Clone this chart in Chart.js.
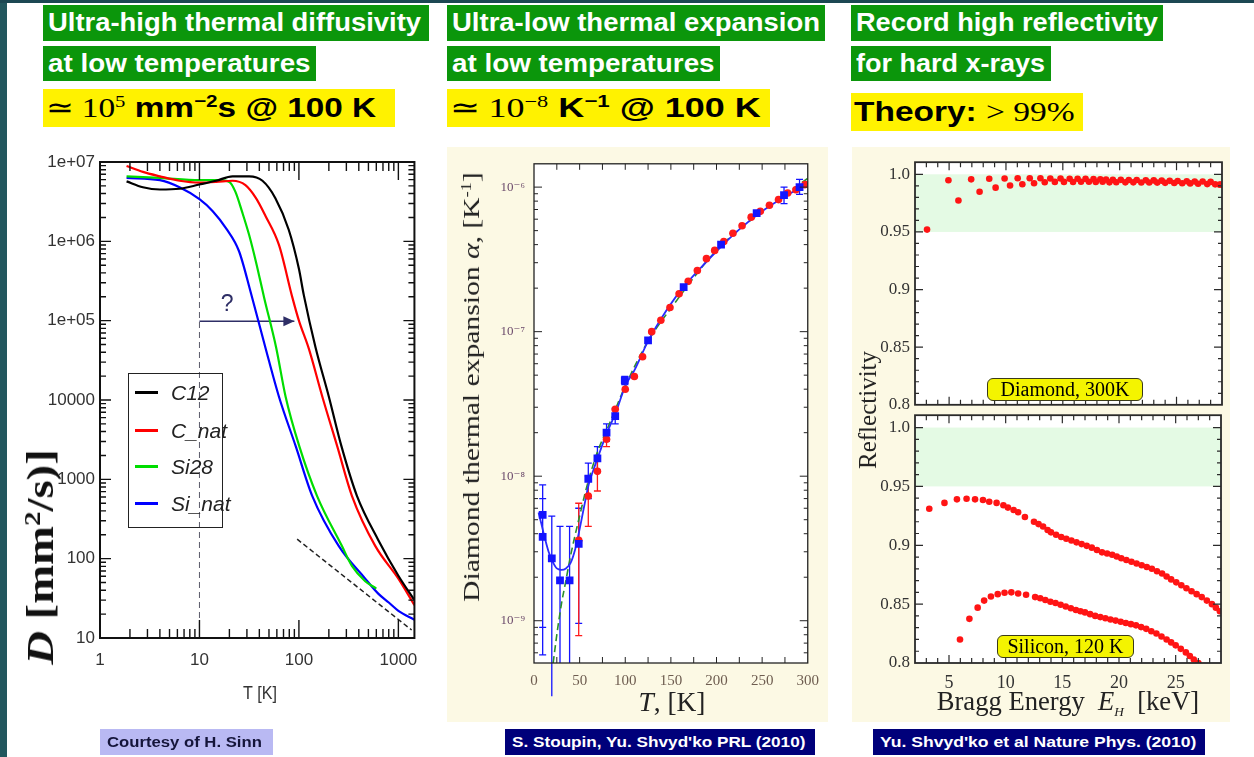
<!DOCTYPE html>
<html>
<head>
<meta charset="utf-8">
<title>Diamond: thermal diffusivity, thermal expansion, x-ray reflectivity</title>
<script src="https://cdn.jsdelivr.net/npm/chart.js@4.4.1/dist/chart.umd.min.js"></script>
<style>
  body { margin: 0; width: 1254px; height: 757px; position: relative; overflow: hidden; background: #fff;
         font-family: 'Liberation Sans', Arial, sans-serif; }
  .strip { position: absolute; background: #22575e; }
  .box { position: absolute; box-sizing: border-box; white-space: nowrap; overflow: hidden; }
  .box > span { display: inline-block; transform-origin: 0 50%; }
  .green { background: #0b960b; color: #fff; font-weight: bold; font-size: 26px; line-height: 34px; padding-left: 5px; }
  .yellow { background: #fff200; color: #000; font-weight: bold; font-size: 28px; line-height: 38px; padding-left: 3px; }
  .m { font-family: 'Liberation Serif', serif; font-weight: normal; }
  sup { font-size: 0.62em; vertical-align: 0.55em; line-height: 0; }
  .cite { font-weight: bold; font-size: 14px; line-height: 26px; height: 26px; padding-left: 7px; }
  .navy { background: #00007a; color: #fff; }
  .lav { background: #b9b9f3; color: #15153a; }
  .panel { position: absolute; background: #fcf9e4; }
  canvas { position: absolute; }
  .rot { position: absolute; white-space: nowrap; transform: translate(-50%, -50%) rotate(-90deg); }
  .ctr { position: absolute; white-space: nowrap; transform: translate(-50%, -50%); }
  .rot > span, .ctr > span { display: inline-block; transform-origin: 50% 50%; }
  .serif { font-family: 'Liberation Serif', serif; }
  .tag { position: absolute; box-sizing: border-box; background: #f4f400; border: 1.5px solid #3a3a1a; border-radius: 6px;
         font-family: 'Liberation Serif', serif; font-size: 20px; line-height: 20px; text-align: center; white-space: nowrap; }
  .legend { position: absolute; box-sizing: border-box; border: 1.5px solid #222; }
  .legend .row { position: absolute; left: 0; width: 100%; height: 24px; }
  .legend .sw { position: absolute; left: 6px; top: 10px; width: 23px; height: 3px; }
  .legend .lb { position: absolute; left: 42px; top: 0; font-style: italic; font-size: 21px; line-height: 24px; color: #222;
                font-family: 'Liberation Sans Narrow', 'Liberation Sans', sans-serif; transform-origin: 0 50%; }
</style>
</head>
<body>

<div class="strip" style="left:0;top:0;width:7px;height:757px"></div>
<div class="strip" style="left:0;top:0;width:1254px;height:3px;background:#1c4853"></div>

<!-- headers -->
<div class="box green" style="left:43px;top:5px;width:386px;height:36px"><span data-w="373">Ultra-high thermal diffusivity</span></div>
<div class="box green" style="left:43px;top:46px;width:273px;height:35px"><span data-w="263">at low temperatures</span></div>
<div class="box yellow" style="left:43px;top:89px;width:352px;height:38px"><span data-w="330"><span class="m">&#8771; 10<sup>5</sup></span> mm<sup>&minus;2</sup>s @ 100 K</span></div>

<div class="box green" style="left:447px;top:5px;width:378px;height:36px"><span data-w="368">Ultra-low thermal expansion</span></div>
<div class="box green" style="left:447px;top:46px;width:273px;height:35px"><span data-w="263">at low temperatures</span></div>
<div class="box yellow" style="left:447px;top:89px;width:323px;height:38px"><span data-w="311"><span class="m">&#8771; 10<sup>&minus;8</sup></span> K<sup>&minus;1</sup> @ 100 K</span></div>

<div class="box green" style="left:851px;top:5px;width:312px;height:36px"><span data-w="302">Record high reflectivity</span></div>
<div class="box green" style="left:851px;top:46px;width:200px;height:35px"><span data-w="189">for hard x-rays</span></div>
<div class="box yellow" style="left:851px;top:93px;width:232px;height:38px"><span data-w="221">Theory: <span class="m">&gt; 99%</span></span></div>

<!-- panels -->
<div class="panel" style="left:447px;top:147px;width:381px;height:575px"></div>
<div class="panel" style="left:852px;top:147px;width:378px;height:575px"></div>

<canvas id="cL" width="420" height="580" style="left:10px;top:140px"></canvas>
<canvas id="cM" width="381" height="575" style="left:447px;top:147px"></canvas>
<canvas id="cRT" width="378" height="273" style="left:852px;top:147px"></canvas>
<canvas id="cRB" width="378" height="322" style="left:852px;top:400px"></canvas>

<!-- left panel overlays -->
<div class="legend" style="left:128px;top:373px;width:95px;height:155px">
  <div class="row" style="top:7px"><div class="sw" style="background:#000"></div><div class="lb">C12</div></div>
  <div class="row" style="top:45px"><div class="sw" style="background:#f00"></div><div class="lb">C_nat</div></div>
  <div class="row" style="top:81px"><div class="sw" style="background:#0d0"></div><div class="lb">Si28</div></div>
  <div class="row" style="top:118px"><div class="sw" style="background:#00f"></div><div class="lb">Si_nat</div></div>
</div>
<div class="rot serif" style="left:40px;top:557px;font-size:38px;font-weight:bold;color:#111"><span data-w="215"><i>D</i> [mm<sup>2</sup>/s)]</span></div>
<div class="ctr" style="left:260px;top:693px;font-size:19px;color:#333;font-family:'Liberation Sans Narrow','Liberation Sans',sans-serif"><span data-w="34">T [K]</span></div>

<!-- middle panel titles -->
<div class="rot serif" style="left:472px;top:387px;font-size:23px;color:#222"><span data-w="430">Diamond thermal expansion <i>&alpha;</i>, [K<sup>-1</sup>]</span></div>
<div class="ctr serif" style="left:672px;top:702px;font-size:27px;color:#222"><span data-w="67"><i>T</i>, [K]</span></div>

<!-- right panel titles and tags -->
<div class="rot serif" style="left:868px;top:410px;font-size:25px;color:#222"><span data-w="118">Reflectivity</span></div>
<div class="ctr serif" style="left:1068px;top:703px;font-size:27px;color:#222"><span data-w="262">Bragg Energy&nbsp; <i>E<sub style="font-size:0.5em">H</sub></i>&nbsp; [keV]</span></div>
<div class="tag" style="left:987px;top:378px;width:156px;height:23px">Diamond, 300K</div>
<div class="tag" style="left:997px;top:635px;width:137px;height:23px">Silicon, 120 K</div>

<!-- citations -->
<div class="box cite lav" style="left:100px;top:729px;width:173px"><span data-w="155">Courtesy of H. Sinn</span></div>
<div class="box cite navy" style="left:505px;top:729px;width:310px"><span data-w="293">S. Stoupin, Yu. Shvyd'ko PRL (2010)</span></div>
<div class="box cite navy" style="left:873px;top:729px;width:332px"><span data-w="316">Yu. Shvyd'ko et al Nature Phys. (2010)</span></div>

<script>
// ---------- left: thermal diffusivity D(T), mm^2/s ----------
const T_C12 = [1.85, 2.7, 4, 6.3, 10, 14.7, 21.5, 31.6, 43, 58, 79, 100, 112, 147, 200, 268, 383, 631, 1000, 1450];
const D_C12 = [5.7e6, 4.8e6, 4.5e6, 4.6e6, 5.2e6, 5.8e6, 6.6e6, 6.6e6, 5.8e6, 3.5e6, 1.4e6, 4.5e5, 2.1e5, 4.6e4, 1.1e4, 2.6e3, 620, 170, 61, 30];
const T_CNAT = [1.85, 2.7, 4, 6.3, 10, 14.7, 21.5, 29, 37, 46, 63, 86, 100, 126, 172, 243, 341, 585, 1000, 1450];
const D_CNAT = [8.9e6, 7.5e6, 6.6e6, 5.8e6, 5.5e6, 5.6e6, 5.8e6, 5.1e6, 3.5e6, 2.1e6, 9e5, 1.95e5, 1.0e5, 4.4e4, 1.1e4, 2.6e3, 620, 145, 56, 26];
const T_SI28 = [1.85, 4, 10, 15.8, 20, 23, 27, 31.6, 37, 44.7, 59, 73.5, 101, 152, 270, 341, 464, 600];
const D_SI28 = [6.6e6, 6.3e6, 5.9e6, 5.9e6, 5.6e6, 4.2e6, 2.3e6, 1.2e6, 5.5e5, 1.95e5, 4.6e4, 1.1e4, 2.6e3, 620, 145, 81, 52, 42];
const T_SINAT = [1.85, 4, 6.3, 10, 13.6, 18.6, 25, 33, 46, 63, 93, 136, 251, 464, 631, 800, 1000, 1450];
const D_SINAT = [6.3e6, 5.9e6, 4.8e6, 3.4e6, 2.4e6, 1.45e6, 7.5e5, 2.2e5, 4.6e4, 1.1e4, 2.6e3, 620, 145, 56, 36, 28, 22, 17];
const SLOPE_T = [96, 1360];
const SLOPE_D = [176, 12.6];
const GUIDE_T = 10;
const ARROW_T = [10, 90];
const ARROW_D = 9.8e4;
const QMARK = { x: 19, y: 1.6e5 };
const T_TICKS = [1, 10, 100, 1000];
const T_TICK_LABELS = ['1', '10', '100', '1000'];
const D_TICKS = [10, 100, 1000, 10000, 1e5, 1e6, 1e7];
const D_TICK_LABELS = ['10', '100', '1000', '10000', '1e+05', '1e+06', '1e+07'];

// ---------- middle: thermal expansion alpha(T), 1/K ----------
const BLUE_T = [9.5, 9.5, 19.5, 28.5, 39, 49, 59.5, 69.5, 79.5, 89, 99.5, 125, 164, 205, 244, 274, 291];
const BLUE_A = [5.4e-9, 3.8e-9, 2.7e-9, 1.9e-9, 1.9e-9, 3.4e-9, 9.6e-9, 1.33e-8, 2.0e-8, 2.6e-8, 4.6e-8, 8.7e-8, 2.03e-7, 4.0e-7, 6.6e-7, 8.8e-7, 1.0e-6];
const BLUE_LO = [5.8e-10, 9e-10, 3e-10, 5.1e-10, 5.1e-10, 9.6e-10, 7.0e-9, 1.1e-8, 1.75e-8, 2.3e-8, 4.3e-8, null, null, null, null, 7.7e-7, 8.9e-7];
const BLUE_HI = [8.7e-9, 7e-9, 5.3e-9, 4.5e-9, 4.5e-9, 6.0e-9, 1.23e-8, 1.6e-8, 2.3e-8, 2.95e-8, 4.9e-8, null, null, null, null, 1.0e-6, 1.13e-6];
const RED_T = [49, 59.5, 69.5, 79.5, 89, 100, 110, 119, 129, 139, 149, 159, 169, 179, 189, 198, 208, 218, 228, 238, 248, 258, 268, 278, 287, 297];
const RED_A = [3.6e-9, 7.3e-9, 1.08e-8, 1.8e-8, 2.9e-8, 4.0e-8, 4.9e-8, 6.7e-8, 1.0e-7, 1.2e-7, 1.47e-7, 1.83e-7, 2.23e-7, 2.65e-7, 3.2e-7, 3.65e-7, 4.2e-7, 4.8e-7, 5.4e-7, 6.2e-7, 6.8e-7, 7.5e-7, 8.2e-7, 9.1e-7, 9.6e-7, 1.04e-6];
const RED_LO = [7.9e-10, 4.5e-9, 7.9e-9, 1.6e-8];
const RED_HI = [6.5e-9, 1.0e-8, 1.3e-8, 2.05e-8];
const FIT_T = [5, 8, 12, 16, 20, 25, 30, 35, 40, 45, 50, 55, 60, 65, 70, 80, 90, 100, 110, 125, 140, 160, 180, 200, 225, 250, 275, 300];
const FIT_A = [5.6e-9, 4.7e-9, 3.7e-9, 3.0e-9, 2.6e-9, 2.3e-9, 2.25e-9, 2.3e-9, 2.5e-9, 3.1e-9, 4.3e-9, 6.2e-9, 8.8e-9, 1.1e-8, 1.35e-8, 2.0e-8, 2.8e-8, 4.2e-8, 5.4e-8, 8.6e-8, 1.25e-7, 1.9e-7, 2.65e-7, 3.6e-7, 5.1e-7, 6.8e-7, 8.6e-7, 1.06e-6];
const DEBYE_T = [21, 25, 30, 35, 40, 45, 50, 55, 60, 70, 80, 100, 125, 150, 200, 250, 300];
const DEBYE_A = [5.1e-10, 8e-10, 1.3e-9, 1.9e-9, 2.8e-9, 3.9e-9, 5.3e-9, 7.2e-9, 9.5e-9, 1.5e-8, 2.1e-8, 4.2e-8, 8.6e-8, 1.45e-7, 3.65e-7, 6.8e-7, 1.15e-6];
const A_TICKS = [1e-9, 1e-8, 1e-7, 1e-6];
const A_TICK_LABELS = ['10\u207B\u2079', '10\u207B\u2078', '10\u207B\u2077', '10\u207B\u2076'];
const TK_TICKS = [0, 50, 100, 150, 200, 250, 300];

// ---------- right: Bragg reflectivity ----------
const DIA_E = [3.06, 4.94, 5.82, 6.94, 7.68, 8.53, 9.09, 9.88, 10.36, 11.03, 11.44, 12.09, 12.47, 13.03, 13.41, 13.9, 14.3, 14.8, 15.1, 15.6, 15.9, 16.3, 16.6, 17.0, 17.3, 17.7, 17.9, 18.3, 18.5, 18.8, 19.1, 19.4, 19.7, 20.1, 20.5, 20.8, 21.2, 21.5, 21.9, 22.3, 22.6, 23.0, 23.3, 23.7, 24.0, 24.4, 24.8, 25.1, 25.5, 25.9, 26.2, 26.6, 26.9, 27.3, 27.7, 28.0, 28.4, 28.8, 28.9];
const DIA_R = [0.952, 0.9948, 0.9773, 0.9956, 0.9848, 0.9961, 0.9884, 0.9964, 0.9903, 0.9966, 0.9914, 0.9966, 0.9923, 0.9966, 0.9931, 0.9964, 0.9934, 0.9963, 0.9934, 0.9962, 0.9933, 0.9961, 0.9935, 0.996, 0.9935, 0.9958, 0.9934, 0.9957, 0.9935, 0.9955, 0.993, 0.9953, 0.9931, 0.9952, 0.993, 0.995, 0.993, 0.995, 0.9929, 0.9948, 0.9929, 0.9947, 0.9928, 0.9945, 0.9926, 0.9943, 0.9925, 0.9942, 0.9923, 0.994, 0.9921, 0.9938, 0.9918, 0.9937, 0.9915, 0.9934, 0.9913, 0.991, 0.991];
const SI_HI_E = [3.26, 4.6, 5.7, 6.55, 7.3, 8.0, 8.55, 9.2, 9.8, 10.2, 10.7, 11.1, 11.7, 12.5, 12.9, 13.3, 13.7, 14.0, 14.45, 14.9, 15.35, 15.8, 16.25, 16.7, 17.15, 17.6, 18.05, 18.5, 18.95, 19.4, 19.8, 20.2, 20.65, 21.1, 21.55, 22.0, 22.45, 22.9, 23.35, 23.8, 24.2, 24.6, 25.05, 25.5, 25.95, 26.4, 26.85, 27.3, 27.75, 28.2, 28.55, 28.9];
const SI_HI_R = [0.931, 0.936, 0.939, 0.9395, 0.939, 0.9385, 0.937, 0.936, 0.934, 0.932, 0.930, 0.928, 0.924, 0.920, 0.918, 0.916, 0.913, 0.911, 0.909, 0.907, 0.9055, 0.904, 0.9025, 0.901, 0.8995, 0.898, 0.896, 0.894, 0.893, 0.892, 0.8905, 0.889, 0.8875, 0.886, 0.8845, 0.883, 0.8815, 0.880, 0.878, 0.876, 0.8735, 0.871, 0.8685, 0.866, 0.8635, 0.861, 0.8585, 0.856, 0.853, 0.850, 0.847, 0.844];
const SI_LO_E = [5.97, 6.8, 7.53, 8.1, 8.7, 9.3, 9.9, 10.5, 11.1, 11.8, 12.6, 13.05, 13.5, 13.95, 14.4, 14.85, 15.3, 15.75, 16.2, 16.6, 17.0, 17.45, 17.9, 18.35, 18.8, 19.25, 19.7, 20.15, 20.6, 21.05, 21.5, 21.95, 22.4, 22.85, 23.3, 23.75, 24.2, 24.6, 25.0, 25.45, 25.9, 26.25, 26.6, 27.0];
const SI_LO_R = [0.820, 0.8375, 0.847, 0.853, 0.8565, 0.8585, 0.8597, 0.860, 0.859, 0.858, 0.856, 0.855, 0.8535, 0.852, 0.851, 0.8495, 0.848, 0.8465, 0.845, 0.844, 0.843, 0.8415, 0.840, 0.839, 0.838, 0.837, 0.836, 0.835, 0.834, 0.833, 0.832, 0.8305, 0.829, 0.827, 0.825, 0.8225, 0.820, 0.8175, 0.815, 0.812, 0.809, 0.806, 0.803, 0.800];
const R_TICKS = [0.8, 0.85, 0.9, 0.95, 1.0];
const R_TICK_LABELS = ['0.8', '0.85', '0.9', '0.95', '1.0'];
const E_TICKS = [5, 10, 15, 20, 25];
const E_TICK_LABELS = ['5', '10', '15', '20', '25'];
const BAND_LO = 0.95, BAND_HI = 1.0;

// ---------- helpers ----------
const pts = (xs, ys) => xs.map((x, i) => ({ x, y: ys[i] }));
const near = (a, b) => Math.abs(a - b) <= 1e-6 * Math.max(Math.abs(a), Math.abs(b));

function logSteps(lo, hi) {
    const out = [];
    for (let e = Math.floor(Math.log10(lo)); e <= Math.ceil(Math.log10(hi)); e++) {
        for (let m = 1; m < 10; m++) {
            const v = m * Math.pow(10, e);
            if (v >= lo * 0.999 && v <= hi * 1.001) out.push(v);
        }
    }
    return out;
}

function linSteps(lo, hi, step) {
    const out = [];
    for (let v = lo; v <= hi + 1e-9; v += step) out.push(+v.toFixed(6));
    return out;
}

// one axis: fixed size, explicit tick list, labels only on the major values
function axis(o) {
    return {
        type: o.type, min: o.min, max: o.max,
        grid: { display: false, drawTicks: false },
        border: { display: false },
        afterBuildTicks: s => { s.ticks = o.steps.map(v => ({ value: v, mj: o.major.some(m => near(m, v)) })); },
        afterFit: s => { if (o.horiz) s.height = o.size; else s.width = o.size; },
        ticks: {
            display: !!o.labels, autoSkip: false, maxRotation: 0, minRotation: 0,
            padding: o.pad, color: o.color, font: o.font,
            callback: v => {
                const i = o.major.findIndex(m => near(m, v));
                return (i >= 0 && o.labels) ? o.labels[i] : '';
            }
        }
    };
}

// plot background, shaded band, inward ticks on all four sides, frame
const framePlugin = {
    id: 'frame',
    beforeDatasetsDraw(chart, args, o) {
        const a = chart.chartArea, c = chart.ctx;
        c.save();
        if (o.fill) { c.fillStyle = o.fill; c.fillRect(a.left, a.top, a.width, a.height); }
        if (o.bandColor) {
            const y = chart.scales.y;
            const top = y.getPixelForValue(o.bandHi), bot = y.getPixelForValue(o.bandLo);
            c.fillStyle = o.bandColor;
            c.fillRect(a.left, top, a.width, bot - top);
        }
        c.restore();
    },
    afterDatasetsDraw(chart, args, o) {
        const a = chart.chartArea, c = chart.ctx;
        const xs = chart.scales.x, ys = chart.scales.y;
        c.save();
        c.strokeStyle = o.color;
        c.lineWidth = o.tickWidth;
        c.beginPath();
        xs.ticks.forEach(t => {
            const p = xs.getPixelForValue(t.value);
            if (p < a.left + 1 || p > a.right - 1) return;
            const L = t.mj ? o.xMajor : o.xMinor;
            c.moveTo(p, a.bottom); c.lineTo(p, a.bottom - L);
            c.moveTo(p, a.top); c.lineTo(p, a.top + L);
        });
        ys.ticks.forEach(t => {
            const p = ys.getPixelForValue(t.value);
            if (p < a.top + 1 || p > a.bottom - 1) return;
            const L = t.mj ? o.yMajor : o.yMinor;
            c.moveTo(a.left, p); c.lineTo(a.left + L, p);
            c.moveTo(a.right, p); c.lineTo(a.right - L, p);
        });
        c.stroke();
        c.lineWidth = o.frameWidth;
        c.strokeStyle = o.frameColor;
        c.strokeRect(a.left, a.top, a.width, a.height);
        c.restore();
    }
};

// vertical error bars from errLo / errHi arrays on a dataset
const errorBars = {
    id: 'errorBars',
    beforeDatasetsDraw(chart) {
        const c = chart.ctx, y = chart.scales.y;
        chart.data.datasets.forEach((ds, i) => {
            if (!ds.errLo) return;
            const meta = chart.getDatasetMeta(i);
            c.save();
            c.strokeStyle = ds.backgroundColor;
            c.lineWidth = 1.3;
            c.beginPath();
            meta.data.forEach((pt, j) => {
                if (ds.errLo[j] == null) return;
                const yh = y.getPixelForValue(ds.errHi[j]);
                const yl = y.getPixelForValue(ds.errLo[j]);
                c.moveTo(pt.x, yh); c.lineTo(pt.x, yl);
                c.moveTo(pt.x - 3.5, yh); c.lineTo(pt.x + 3.5, yh);
                if (ds.errLo[j] > y.min * 1.001) { c.moveTo(pt.x - 3.5, yl); c.lineTo(pt.x + 3.5, yl); }
            });
            c.stroke();
            c.restore();
        });
    }
};

// arrow head on the "?" arrow and the question mark itself
const arrowPlugin = {
    id: 'arrowHead',
    afterDatasetsDraw(chart) {
        const c = chart.ctx;
        chart.data.datasets.forEach((ds, i) => {
            if (!ds.arrow) return;
            const pts = chart.getDatasetMeta(i).data;
            const tip = pts[pts.length - 1];
            c.save();
            c.fillStyle = ds.borderColor;
            c.beginPath();
            c.moveTo(tip.x, tip.y);
            c.lineTo(tip.x - 11, tip.y - 5);
            c.lineTo(tip.x - 11, tip.y + 5);
            c.closePath();
            c.fill();
            c.font = "23px 'Liberation Sans Narrow', 'Liberation Sans', sans-serif";
            c.textAlign = 'center';
            c.textBaseline = 'middle';
            c.fillText('?', chart.scales.x.getPixelForValue(QMARK.x), chart.scales.y.getPixelForValue(QMARK.y));
            c.restore();
        });
    }
};

function baseOptions(padding, x, y, frame) {
    return {
        responsive: false,
        animation: false,
        events: [],
        layout: { padding },
        plugins: { legend: { display: false }, tooltip: { enabled: false }, frame },
        scales: { x, y }
    };
}

const sansTicks = { family: "'Liberation Sans Narrow', 'Liberation Sans', sans-serif", size: 17 };
const curve = (data, color) => ({ data, borderColor: color, borderWidth: 2.2, pointRadius: 0, cubicInterpolationMode: 'monotone' });

// ---------- left chart ----------
new Chart(document.getElementById('cL'), {
    type: 'line',
    data: {
        datasets: [
            curve(pts(T_C12, D_C12), '#000'),
            curve(pts(T_CNAT, D_CNAT), '#ff0000'),
            curve(pts(T_SI28, D_SI28), '#00dd00'),
            curve(pts(T_SINAT, D_SINAT), '#0000ff'),
            { data: [{ x: GUIDE_T, y: D_TICKS[0] }, { x: GUIDE_T, y: D_TICKS[D_TICKS.length - 1] }],
              borderColor: '#5a5a6a', borderWidth: 1, borderDash: [6, 4], pointRadius: 0 },
            { data: [{ x: ARROW_T[0], y: ARROW_D }, { x: ARROW_T[1], y: ARROW_D }],
              borderColor: '#2e2e66', borderWidth: 1.5, pointRadius: 0, arrow: true },
            { data: pts(SLOPE_T, SLOPE_D), borderColor: '#222', borderWidth: 1.5, borderDash: [5, 3], pointRadius: 0 }
        ]
    },
    options: baseOptions(
        { left: 0, right: 14, top: 22, bottom: 0 },
        axis({ type: 'logarithmic', min: 1, max: 1450, steps: logSteps(1, 1450), major: T_TICKS, labels: T_TICK_LABELS,
               horiz: true, size: 82, pad: 12, color: '#333', font: sansTicks }),
        axis({ type: 'logarithmic', min: 10, max: 1e7, steps: logSteps(10, 1e7), major: D_TICKS, labels: D_TICK_LABELS,
               size: 90, pad: 5, color: '#333', font: sansTicks }),
        { color: '#111', tickWidth: 1.4, xMajor: 18, xMinor: 9, yMajor: 11, yMinor: 6, frameColor: '#111', frameWidth: 2 }
    ),
    plugins: [framePlugin, arrowPlugin]
});

// ---------- middle chart ----------
new Chart(document.getElementById('cM'), {
    type: 'scatter',
    data: {
        datasets: [
            { data: pts(BLUE_T, BLUE_A), backgroundColor: '#1414ff', borderWidth: 0, pointStyle: 'rect', pointRadius: 5.5,
              errLo: BLUE_LO, errHi: BLUE_HI },
            { data: pts(RED_T, RED_A), backgroundColor: '#ff1a1a', borderWidth: 0, pointRadius: 3.8,
              errLo: RED_LO, errHi: RED_HI },
            { data: pts(FIT_T, FIT_A), showLine: true, borderColor: '#2a2aff', borderWidth: 1.8, pointRadius: 0,
              cubicInterpolationMode: 'monotone' },
            { data: pts(DEBYE_T, DEBYE_A), showLine: true, borderColor: '#2b8f2b', borderWidth: 1.6, borderDash: [7, 4],
              pointRadius: 0, cubicInterpolationMode: 'monotone' }
        ]
    },
    options: baseOptions(
        { left: 0, right: 17, top: 12, bottom: 0 },
        axis({ type: 'linear', min: 0, max: 300, steps: linSteps(0, 300, 25), major: TK_TICKS, labels: TK_TICKS.map(String),
               horiz: true, size: 59, pad: 9, color: '#6e5d50', font: { family: "'Liberation Serif', serif", size: 15 } }),
        axis({ type: 'logarithmic', min: 5.1e-10, max: 1.45e-6, steps: logSteps(5.1e-10, 1.45e-6), major: A_TICKS,
               labels: A_TICK_LABELS, size: 87, pad: 9, color: '#6b4a6b', font: { family: "'Liberation Serif', 'DejaVu Serif', serif", size: 13 } }),
        { fill: '#fff', color: '#222', tickWidth: 1, xMajor: 6, xMinor: 6, yMajor: 8, yMinor: 4, frameColor: '#222', frameWidth: 1.3 }
    ),
    plugins: [framePlugin, errorBars]
});

// ---------- right charts ----------
const serifTicks = { family: "'Liberation Serif', serif", size: 17 };
const rightFrame = { fill: '#fff', bandLo: BAND_LO, bandHi: BAND_HI, bandColor: '#e4fae4', color: '#2a2a2a', tickWidth: 1.2,
                     xMajor: 8, xMinor: 5, yMajor: 8, yMinor: 4, frameColor: '#2a2a2a', frameWidth: 1.8 };
const dots = (data) => ({ data, backgroundColor: '#ff1414', borderWidth: 0, pointRadius: 3.3 });

new Chart(document.getElementById('cRT'), {
    type: 'scatter',
    data: { datasets: [dots(pts(DIA_E, DIA_R))] },
    options: baseOptions(
        { left: 0, right: 8, top: 7, bottom: 0 },
        axis({ type: 'linear', min: 2, max: 29, steps: linSteps(2, 29, 1), major: E_TICKS, labels: null,
               horiz: true, size: 12, pad: 0, color: '#333', font: serifTicks }),
        axis({ type: 'linear', min: 0.8, max: 1.0105, steps: linSteps(0.8, 1.0, 0.01), major: R_TICKS, labels: R_TICK_LABELS,
               size: 63, pad: 5, color: '#333', font: serifTicks }),
        rightFrame
    ),
    plugins: [framePlugin]
});

new Chart(document.getElementById('cRB'), {
    type: 'scatter',
    data: { datasets: [dots(pts(SI_HI_E, SI_HI_R)), dots(pts(SI_LO_E, SI_LO_R))] },
    options: baseOptions(
        { left: 0, right: 8, top: 11, bottom: 0 },
        axis({ type: 'linear', min: 2, max: 29, steps: linSteps(2, 29, 1), major: E_TICKS, labels: E_TICK_LABELS,
               horiz: true, size: 59, pad: 9, color: '#333', font: { family: "'Liberation Serif', serif", size: 18 } }),
        axis({ type: 'linear', min: 0.8, max: 1.0105, steps: linSteps(0.8, 1.0, 0.01), major: R_TICKS, labels: R_TICK_LABELS,
               size: 63, pad: 5, color: '#333', font: serifTicks }),
        rightFrame
    ),
    plugins: [framePlugin]
});

// squeeze text to the widths it has in the slide
document.querySelectorAll('[data-w]').forEach(el => {
    const k = +el.dataset.w / el.offsetWidth;
    el.style.transform = 'scaleX(' + k.toFixed(3) + ')';
});
</script>
</body>
</html>
